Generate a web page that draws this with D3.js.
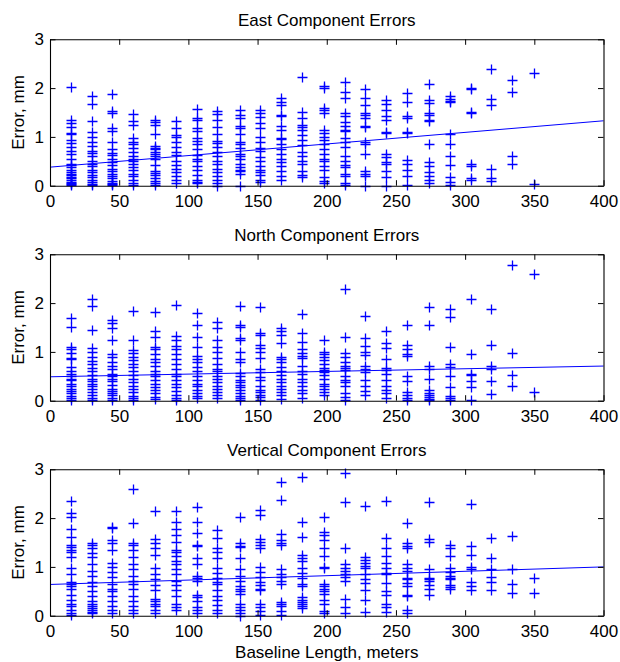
<!DOCTYPE html>
<html><head><meta charset="utf-8">
<script src="https://cdn.jsdelivr.net/npm/d3@7"></script>
<style>
body{margin:0;background:#fff;}
text{font-family:"Liberation Sans",Arial,Helvetica,sans-serif;fill:#000;}
</style>
</head><body>
<svg id="chart" width="620" height="662"></svg>
<script>
// ---- data ----
const baselines = [15,30,45,60,76,91,106,121,137,152,167,182,198,213,228,243,258,274,289,304,319,334,350];

const eastErrors = [
  [2.02,1.35,1.28,1.2,1.08,1.05,0.93,0.88,0.8,0.72,0.65,0.55,0.45,0.42,0.38,0.32,0.28,0.25,0.22,0.18,0.15,0.12,0.08,0.05,0.03,0.01],
  [1.83,1.68,1.32,1.1,1.0,0.9,0.82,0.72,0.68,0.6,0.5,0.45,0.4,0.33,0.28,0.22,0.18,0.12,0.08,0.04,0.01],
  [1.88,1.53,1.48,1.18,1.12,0.9,0.75,0.68,0.62,0.55,0.48,0.42,0.35,0.3,0.25,0.2,0.15,0.1,0.06,0.03,0.01],
  [1.47,1.33,1.25,0.98,0.9,0.85,0.78,0.7,0.6,0.55,0.5,0.45,0.38,0.32,0.25,0.2,0.12,0.05,0.01],
  [1.35,1.3,1.25,1.05,0.82,0.78,0.75,0.7,0.65,0.6,0.55,0.42,0.3,0.27,0.22,0.15,0.1,0.05,0.02],
  [1.33,1.18,1.04,1.0,0.9,0.8,0.7,0.62,0.5,0.42,0.35,0.28,0.2,0.12,0.05],
  [1.57,1.38,1.35,1.18,1.12,0.97,0.92,0.85,0.75,0.62,0.55,0.5,0.4,0.32,0.22,0.12,0.08,0.05],
  [1.53,1.47,1.35,1.2,1.05,0.92,0.88,0.8,0.7,0.6,0.5,0.45,0.35,0.28,0.2,0.12,0.05,0.0],
  [1.55,1.45,1.38,1.22,1.18,1.05,0.9,0.85,0.78,0.65,0.6,0.55,0.45,0.38,0.32,0.3,0.25,0.0],
  [1.55,1.48,1.4,1.28,1.18,1.0,0.9,0.78,0.72,0.58,0.5,0.4,0.32,0.28,0.22,0.12,0.08],
  [1.8,1.72,1.65,1.45,1.42,1.22,1.15,0.98,0.95,0.85,0.75,0.65,0.55,0.48,0.4,0.3,0.2,0.12],
  [2.22,1.52,1.38,1.25,1.2,1.15,1.04,0.94,0.83,0.7,0.6,0.5,0.45,0.3,0.22,0.18],
  [2.05,2.0,1.6,1.55,1.48,1.14,1.07,1.0,0.94,0.85,0.75,0.65,0.55,0.5,0.4,0.32,0.18,0.1,0.05],
  [2.12,1.92,1.8,1.5,1.42,1.3,1.22,1.15,1.12,0.98,0.9,0.8,0.6,0.5,0.42,0.38,0.25,0.2,0.05,0.01],
  [1.98,1.8,1.65,1.5,1.45,1.38,1.22,1.2,0.9,0.85,0.65,0.3,0.25,0.2,0.0],
  [1.75,1.68,1.55,1.42,1.35,1.1,1.08,0.65,0.58,0.48,0.45,0.3,0.18,0.0],
  [1.9,1.72,1.42,1.38,1.1,1.08,0.52,0.45,0.32,0.2,0.02],
  [2.08,1.75,1.7,1.5,1.45,1.35,1.32,0.85,0.48,0.4,0.28,0.2,0.12,0.05],
  [1.84,1.78,1.74,1.72,1.05,0.85,0.6,0.42,0.18,0.08,0.02],
  [2.0,1.98,1.52,1.5,0.45,0.4,0.15,0.12],
  [2.39,1.77,1.65,0.35,0.15,0.1],
  [2.17,1.92,0.6,0.45],
  [2.3,0.04]
];

const northErrors = [
  [1.7,1.52,1.1,1.05,0.98,0.88,0.85,0.7,0.6,0.55,0.5,0.45,0.42,0.35,0.3,0.25,0.2,0.15,0.1,0.05,0.02],
  [2.08,1.95,1.45,1.08,1.0,0.9,0.82,0.75,0.68,0.6,0.52,0.45,0.4,0.35,0.3,0.25,0.18,0.12,0.05,0.02],
  [1.65,1.6,1.5,1.25,0.95,0.9,0.8,0.72,0.65,0.55,0.5,0.45,0.4,0.32,0.25,0.2,0.15,0.12,0.06,0.02],
  [1.83,1.24,1.04,0.97,0.9,0.83,0.76,0.7,0.6,0.52,0.45,0.38,0.3,0.25,0.18,0.1,0.05,0.01],
  [1.82,1.42,1.3,1.1,1.05,0.95,0.85,0.8,0.72,0.6,0.55,0.5,0.42,0.35,0.28,0.22,0.15,0.08,0.03],
  [1.96,1.32,1.25,1.12,1.05,0.95,0.85,0.75,0.65,0.55,0.5,0.42,0.35,0.28,0.2,0.12,0.05,0.01],
  [1.8,1.55,1.3,1.1,0.92,0.85,0.8,0.7,0.6,0.5,0.42,0.35,0.3,0.22,0.15,0.1,0.05],
  [1.62,1.5,1.25,1.1,1.0,0.88,0.75,0.65,0.6,0.5,0.45,0.38,0.3,0.25,0.18,0.12,0.05],
  [1.94,1.55,1.52,1.28,1.25,1.0,0.85,0.8,0.56,0.5,0.42,0.38,0.32,0.28,0.22,0.15,0.1,0.05,0.01],
  [1.92,1.38,1.35,1.15,1.08,1.0,0.87,0.65,0.58,0.48,0.42,0.3,0.22,0.18,0.12,0.08,0.01],
  [1.5,1.42,1.35,1.18,0.9,0.85,0.8,0.7,0.6,0.52,0.45,0.38,0.3,0.25,0.18,0.12,0.03],
  [1.78,1.38,1.2,1.05,0.98,0.92,0.88,0.72,0.6,0.55,0.45,0.38,0.3,0.22,0.15,0.05],
  [1.25,1.0,0.95,0.9,0.83,0.75,0.68,0.62,0.58,0.52,0.45,0.35,0.3,0.25,0.18,0.12],
  [2.28,1.3,0.98,0.9,0.8,0.72,0.68,0.62,0.5,0.42,0.38,0.3,0.15,0.08,0.02],
  [1.73,1.28,1.12,1.0,0.94,0.72,0.65,0.58,0.42,0.3,0.2,0.12],
  [1.42,1.18,1.08,0.85,0.68,0.62,0.55,0.42,0.3,0.22,0.15,0.05],
  [1.55,1.15,1.05,0.95,0.92,0.5,0.4,0.18,0.12,0.05,0.02],
  [1.92,1.55,0.72,0.65,0.45,0.22,0.15,0.12,0.08,0.04,0.01],
  [1.87,1.72,1.1,0.75,0.7,0.5,0.28,0.1,0.05,0.01],
  [2.08,0.95,0.55,0.52,0.4,0.28,0.02],
  [1.88,1.15,0.72,0.65,0.4,0.14],
  [2.78,0.97,0.52,0.31],
  [2.6,0.18]
];

const verticalErrors = [
  [2.35,2.1,2.02,1.78,1.62,1.45,1.4,1.35,1.3,1.2,0.98,0.85,0.7,0.65,0.6,0.55,0.42,0.32,0.25,0.2,0.12,0.05,0.02],
  [1.5,1.45,1.38,1.28,1.2,1.05,0.92,0.82,0.7,0.6,0.5,0.4,0.3,0.25,0.2,0.15,0.12,0.08,0.05],
  [1.82,1.8,1.55,1.5,1.35,1.08,1.0,0.9,0.8,0.65,0.55,0.5,0.4,0.3,0.2,0.12,0.05],
  [2.6,1.9,1.5,1.45,1.35,1.2,1.05,0.95,0.82,0.72,0.65,0.55,0.4,0.3,0.2,0.12,0.05],
  [2.15,1.58,1.5,1.38,1.25,0.98,0.85,0.75,0.62,0.52,0.35,0.3,0.25,0.2,0.12,0.05],
  [2.15,1.92,1.78,1.65,1.52,1.35,1.3,1.22,1.12,1.05,0.95,0.85,0.72,0.62,0.52,0.4,0.25,0.18,0.12],
  [2.22,1.92,1.7,1.45,1.42,1.18,1.05,0.82,0.78,0.72,0.42,0.38,0.3,0.18,0.12,0.05],
  [1.75,1.6,1.38,1.3,1.18,0.98,0.88,0.78,0.7,0.65,0.52,0.4,0.32,0.22,0.12,0.05],
  [2.03,1.5,1.42,1.4,1.18,0.95,0.82,0.72,0.6,0.55,0.5,0.45,0.25,0.18,0.12,0.05,0.0],
  [2.17,2.06,1.58,1.52,1.45,1.38,1.0,0.9,0.8,0.7,0.62,0.55,0.52,0.25,0.18,0.1,0.02],
  [2.75,2.37,1.68,1.55,1.5,1.45,0.95,0.85,0.8,0.72,0.65,0.28,0.25,0.2,0.1,0.02],
  [2.85,1.93,1.62,1.25,1.18,1.12,0.98,0.88,0.78,0.65,0.6,0.38,0.32,0.28,0.25,0.2,0.15],
  [2.02,1.72,1.65,1.55,1.38,1.22,1.0,0.97,0.65,0.6,0.55,0.5,0.45,0.32,0.25,0.1,0.05],
  [2.93,2.34,1.38,1.05,0.98,0.92,0.85,0.8,0.72,0.35,0.18,0.05],
  [2.24,1.2,1.15,1.08,1.02,0.97,0.85,0.75,0.68,0.52,0.32,0.08],
  [2.36,1.6,1.38,1.22,1.08,0.97,0.88,0.85,0.66,0.5,0.42,0.25,0.18,0.08],
  [1.9,1.48,1.42,1.38,1.05,0.98,0.92,0.78,0.75,0.68,0.6,0.42,0.4,0.12,0.05],
  [2.32,1.58,1.52,0.95,0.78,0.75,0.72,0.62,0.55,0.42],
  [1.45,1.38,1.22,0.98,0.9,0.82,0.78,0.75,0.62,0.58,0.55],
  [2.29,1.42,1.25,1.0,0.95,0.7,0.6,0.52],
  [1.6,1.18,0.95,0.8,0.7,0.53],
  [1.64,0.95,0.65,0.46],
  [0.78,0.46]
];

const trendX = [0, 400];
const eastTrend = [0.38, 1.33];
const northTrend = [0.49, 0.71];
const verticalTrend = [0.64, 1.0];

const panelTitles = ["East Component Errors", "North Component Errors", "Vertical Component Errors"];
const xTickValues = [0, 50, 100, 150, 200, 250, 300, 350, 400];
const yTickValues = [0, 1, 2, 3];
const yLabel = "Error, mm";
const xLabel = "Baseline Length, meters";

// ---- drawing ----
const svg = d3.select("#chart");
const left = 50, right = 603.5, plotH = 146.4;
const tops = [39.3, 254.3, 469.3];
const blue = "#0000ff";
const fontSize = 17;

const x = d3.scaleLinear().domain([0, 400]).range([left, right]);

const panels = [
  {errors: eastErrors, trend: eastTrend, title: panelTitles[0]},
  {errors: northErrors, trend: northTrend, title: panelTitles[1]},
  {errors: verticalErrors, trend: verticalTrend, title: panelTitles[2]}
];

panels.forEach((p, i) => {
  const top = tops[i], bottom = top + plotH;
  const y = d3.scaleLinear().domain([0, 3]).range([bottom, top]);
  const g = svg.append("g");

  // points
  const pts = [];
  p.errors.forEach((col, ci) => col.forEach(v => pts.push([baselines[ci], v])));
  const r = 5;
  g.append("g").selectAll("path").data(pts).join("path")
    .attr("d", d => {
      const cx = Math.round(x(d[0])) + 0.5, cy = Math.round(y(d[1])) + 0.5;
      return `M${cx - r},${cy}H${cx + r}M${cx},${cy - r}V${cy + r}`;
    })
    .attr("stroke", blue).attr("stroke-width", 1.3).attr("fill", "none");

  // trend line
  g.append("path")
    .datum(trendX.map((xv, k) => [xv, p.trend[k]]))
    .attr("d", d3.line().x(d => x(d[0])).y(d => y(d[1])))
    .attr("stroke", blue).attr("stroke-width", 1).attr("fill", "none");

  // axes (MATLAB box, inward ticks)
  const tick = 5.5;
  const styleAxis = a => {
    a.selectAll("path.domain").attr("stroke", "#000").attr("stroke-width", 1.1);
    a.selectAll(".tick line").attr("stroke", "#000");
    a.selectAll("text").style("font-size", fontSize + "px").attr("font-family", null);
  };
  g.append("g").attr("transform", `translate(0,${bottom})`)
    .call(d3.axisBottom(x).tickValues(xTickValues).tickFormat(d3.format("d")).tickSizeInner(-tick).tickSizeOuter(0).tickPadding(9))
    .call(styleAxis);
  g.append("g").attr("transform", `translate(0,${top})`)
    .call(d3.axisTop(x).tickValues(xTickValues).tickFormat("").tickSizeInner(-tick).tickSizeOuter(0))
    .call(styleAxis);
  g.append("g").attr("transform", `translate(${left},0)`)
    .call(d3.axisLeft(y).tickValues(yTickValues).tickFormat(d3.format("d")).tickSizeInner(-tick).tickSizeOuter(0).tickPadding(6))
    .call(styleAxis);
  g.append("g").attr("transform", `translate(${right},0)`)
    .call(d3.axisRight(y).tickValues(yTickValues).tickFormat("").tickSizeInner(-tick).tickSizeOuter(0))
    .call(styleAxis);
  svg.selectAll("g.tick text").attr("fill", "#000");

  // title
  svg.append("text").attr("x", (left + right) / 2).attr("y", top - 13)
    .attr("text-anchor", "middle").style("font-size", fontSize + "px").text(p.title);

  // y label
  svg.append("text")
    .attr("transform", `translate(23.5,${(top + bottom) / 2}) rotate(-90)`)
    .attr("text-anchor", "middle").style("font-size", fontSize + "px").text(yLabel);
});

svg.append("text").attr("x", (left + right) / 2).attr("y", 658)
  .attr("text-anchor", "middle").style("font-size", fontSize + "px").text(xLabel);
</script>
</body></html>
